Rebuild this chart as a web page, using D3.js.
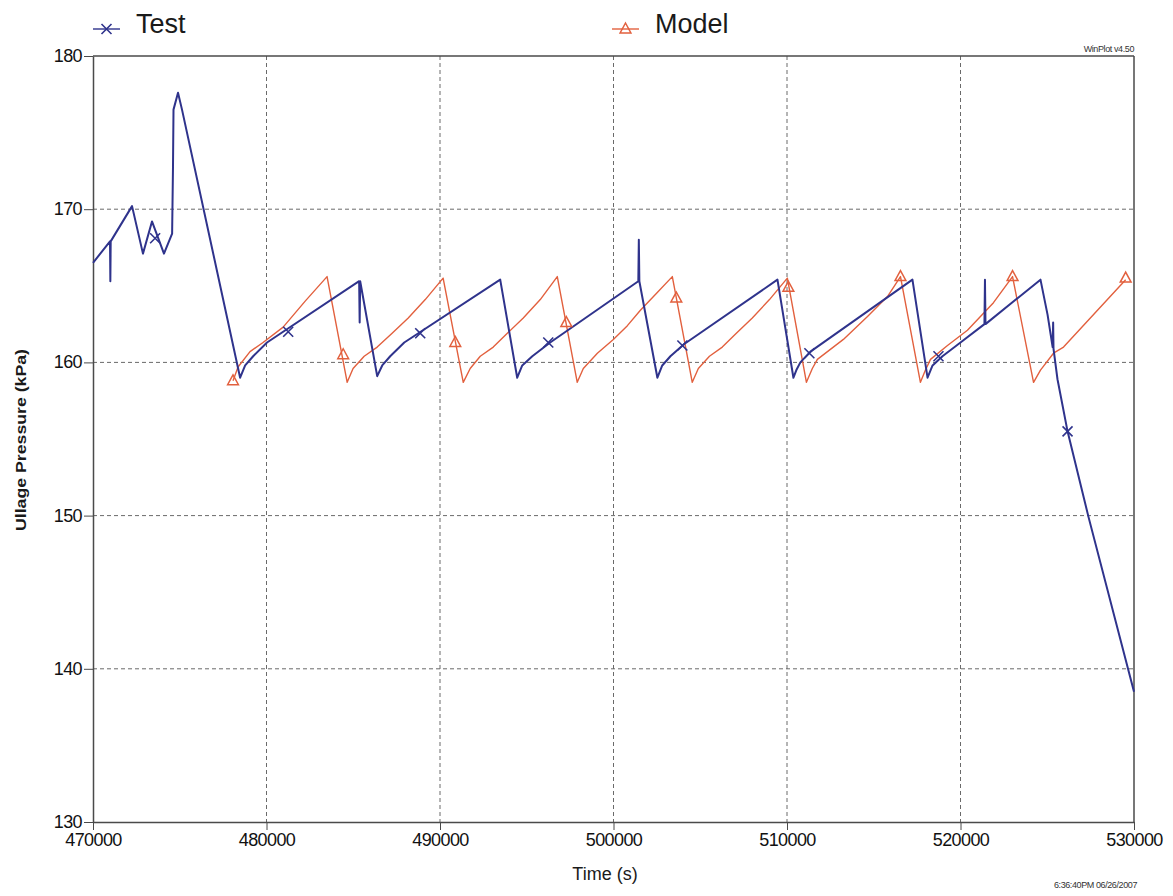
<!DOCTYPE html>
<html>
<head>
<meta charset="utf-8">
<script src="https://cdn.jsdelivr.net/npm/d3@7"></script>
<style>
  html, body { margin: 0; padding: 0; background: #fff; }
  svg { display: block; font-family: "Liberation Sans", Arial, sans-serif; }
</style>
</head>
<body>
<svg id="chart" width="1173" height="896"></svg>
<script>
// Measured ullage pressure (Test) versus model prediction (Model).
// Each entry: [time (s), pressure (kPa)]
const testSeries = [
  [470000, 166.5], [470980, 167.9], [471000, 165.3], [471020, 167.9],
  [472250, 170.2], [472880, 167.1], [473400, 169.2], [474090, 167.1],
  [474560, 168.4], [474610, 172.7], [474640, 176.5], [474900, 177.6],
  [475130, 176.5], [478480, 159.0], [478770, 159.8], [479230, 160.4],
  [480030, 161.3], [485340, 165.3], [485370, 162.6], [485400, 165.3],
  [486380, 159.1], [486670, 159.8], [487130, 160.4], [487940, 161.3],
  [493470, 165.4], [494450, 159.0], [494740, 159.8], [495320, 160.4],
  [496350, 161.3], [501430, 165.3], [501460, 168.0], [501490, 165.3],
  [502530, 159.0], [502810, 159.8], [503280, 160.4], [504080, 161.2],
  [509450, 165.4], [510370, 159.0], [510540, 159.5], [510770, 160.0],
  [511350, 160.7], [517230, 165.4], [518100, 159.0], [518390, 159.8],
  [518960, 160.4], [520000, 161.3], [521380, 162.5], [521410, 165.4],
  [521440, 162.5], [524610, 165.4], [525020, 163.1], [525310, 161.0],
  [525340, 162.6], [525360, 160.9], [525590, 158.9], [526170, 155.5],
  [527380, 149.9], [530000, 138.5]
];

const modelSeries = [
  [478070, 158.8], [478360, 159.7], [479050, 160.7], [479800, 161.3],
  [480960, 162.3], [482230, 164.0], [483490, 165.6], [484650, 158.7],
  [484990, 159.6], [485630, 160.4], [486380, 161.0], [487240, 161.9],
  [488170, 162.9], [489150, 164.1], [490180, 165.5], [491340, 158.7],
  [491740, 159.6], [492320, 160.4], [493070, 161.0], [493880, 161.9],
  [494800, 162.9], [495780, 164.1], [496760, 165.6], [497910, 158.7],
  [498260, 159.6], [499070, 160.6], [499990, 161.5], [500800, 162.4],
  [501550, 163.4], [502470, 164.5], [503390, 165.6], [504540, 158.7],
  [504890, 159.6], [505530, 160.4], [506270, 161.0], [507080, 161.9],
  [508000, 162.9], [508990, 164.1], [510020, 165.5], [511120, 158.7],
  [511460, 159.6], [511750, 160.2], [513250, 161.5], [514640, 163.0],
  [515790, 164.3], [516540, 165.6], [517690, 158.7], [517980, 159.5],
  [518270, 160.2], [519250, 161.1], [520400, 162.1], [521900, 163.9],
  [523000, 165.6], [524210, 158.7], [524610, 159.5], [525360, 160.6],
  [525940, 161.0], [529520, 165.4]
];

// Symbol positions along each curve
const testMarkers = [
  [473580, 168.1], [481250, 162.0], [488860, 161.9], [496240, 161.3],
  [503970, 161.1], [511290, 160.6], [518730, 160.4], [526170, 155.5]
];
const modelMarkers = [
  [478070, 158.8], [484420, 160.5], [490880, 161.3], [497280, 162.6],
  [503620, 164.2], [510080, 164.9], [516540, 165.6], [523000, 165.6],
  [529520, 165.5]
];

const xTicks = [470000, 480000, 490000, 500000, 510000, 520000, 530000];
const yTicks = [130, 140, 150, 160, 170, 180];
const seriesNames = ["Test", "Model"];

const testColor = "#2f338c";
const modelColor = "#e2603e";
const frameColor = "#4a4a4a";
const gridColor = "#6a6a6a";

const plotLeft = 93, plotTop = 56, plotRight = 1134, plotBottom = 822;

const svg = d3.select("#chart");
svg.append("rect").attr("width", 1173).attr("height", 896).attr("fill", "#fff");

const x = d3.scaleLinear().domain([470000, 530000]).range([plotLeft, plotRight]);
const y = d3.scaleLinear().domain([130, 180]).range([plotBottom, plotTop]);

// Dashed grid on interior ticks
const grid = svg.append("g");
grid.selectAll("line.v").data(xTicks.slice(1, -1)).join("line")
  .attr("class", "v")
  .attr("x1", d => x(d)).attr("x2", d => x(d))
  .attr("y1", plotTop).attr("y2", plotBottom)
  .attr("stroke", gridColor).attr("stroke-width", 1).attr("stroke-dasharray", "4,3");
grid.selectAll("line.h").data(yTicks.slice(1, -1)).join("line")
  .attr("class", "h")
  .attr("x1", plotLeft).attr("x2", plotRight)
  .attr("y1", d => y(d)).attr("y2", d => y(d))
  .attr("stroke", gridColor).attr("stroke-width", 1).attr("stroke-dasharray", "4,3");

// Axes
const xAxis = d3.axisBottom(x).tickValues(xTicks).tickFormat(d3.format("d"))
  .tickSizeInner(8).tickSizeOuter(0).tickPadding(3);
const yAxis = d3.axisLeft(y).tickValues(yTicks).tickFormat(d3.format("d"))
  .tickSizeInner(9).tickSizeOuter(0).tickPadding(2);

const gx = svg.append("g").attr("transform", `translate(0,${plotBottom})`).call(xAxis);
const gy = svg.append("g").attr("transform", `translate(${plotLeft},0)`).call(yAxis);
[gx, gy].forEach(g => {
  g.select(".domain").attr("stroke", frameColor).attr("stroke-width", 1.5);
  g.selectAll(".tick line").attr("stroke", frameColor).attr("stroke-width", 1);
  g.selectAll(".tick text").attr("fill", "#111")
    .style("font-family", "'Liberation Sans', Arial, sans-serif")
    .style("font-size", "18px").style("letter-spacing", "-0.6px");
});
gy.selectAll(".tick text").attr("dy", "0.3em");

// Top and right frame lines
svg.append("line").attr("x1", plotLeft).attr("x2", plotRight).attr("y1", plotTop).attr("y2", plotTop)
  .attr("stroke", frameColor).attr("stroke-width", 1.5);
svg.append("line").attr("x1", plotRight).attr("x2", plotRight).attr("y1", plotTop).attr("y2", plotBottom)
  .attr("stroke", frameColor).attr("stroke-width", 1.5);

// Curves
const line = d3.line().x(d => x(d[0])).y(d => y(d[1]));
svg.append("path").datum(modelSeries).attr("d", line)
  .attr("fill", "none").attr("stroke", modelColor).attr("stroke-width", 1.4)
  .attr("stroke-linejoin", "round");
svg.append("path").datum(testSeries).attr("d", line)
  .attr("fill", "none").attr("stroke", testColor).attr("stroke-width", 2)
  .attr("stroke-linejoin", "round");

// Symbols
const crossPath = s => `M${-s},${-s}L${s},${s}M${-s},${s}L${s},${-s}`;
const triPath = s => `M0,${-s}L${s * 0.9},${s * 0.65}L${-s * 0.9},${s * 0.65}Z`;

svg.append("g").selectAll("path").data(testMarkers).join("path")
  .attr("transform", d => `translate(${x(d[0])},${y(d[1])})`)
  .attr("d", crossPath(5))
  .attr("fill", "none").attr("stroke", testColor).attr("stroke-width", 1.6);
svg.append("g").selectAll("path").data(modelMarkers).join("path")
  .attr("transform", d => `translate(${x(d[0])},${y(d[1])})`)
  .attr("d", triPath(6))
  .attr("fill", "none").attr("stroke", modelColor).attr("stroke-width", 1.5);

// Legend
const legend = [
  { name: seriesNames[0], color: testColor, sym: crossPath(5), x0: 93, w: 1.6 },
  { name: seriesNames[1], color: modelColor, sym: triPath(6), x0: 612, w: 1.5 }
];
const lg = svg.append("g");
legend.forEach(l => {
  lg.append("line").attr("x1", l.x0).attr("x2", l.x0 + 27).attr("y1", 29).attr("y2", 29)
    .attr("stroke", l.color).attr("stroke-width", 1.4);
  lg.append("path").attr("transform", `translate(${l.x0 + 13.5},29)`).attr("d", l.sym)
    .attr("fill", "none").attr("stroke", l.color).attr("stroke-width", l.w);
  lg.append("text").attr("x", l.x0 + 43).attr("y", 33).text(l.name)
    .attr("fill", "#1a1a1a").style("font-size", "27px");
});

// Axis titles
svg.append("text").attr("x", 605).attr("y", 880).attr("text-anchor", "middle")
  .attr("fill", "#1a1a1a").style("font-size", "18px").text("Time (s)");
svg.append("text").attr("transform", "translate(26,440) rotate(-90)")
  .attr("text-anchor", "middle").attr("fill", "#1a1a1a")
  .attr("textLength", 182).attr("lengthAdjust", "spacingAndGlyphs")
  .style("font-size", "15px").style("font-weight", "bold")
  .text("Ullage Pressure (kPa)");

// Small footnotes
svg.append("text").attr("x", 1134).attr("y", 52).attr("text-anchor", "end")
  .attr("fill", "#333").style("font-size", "9px").style("letter-spacing", "-0.4px")
  .text("WinPlot v4.50");
svg.append("text").attr("x", 1137).attr("y", 888).attr("text-anchor", "end")
  .attr("fill", "#333").style("font-size", "9px").style("letter-spacing", "-0.4px")
  .text("6:36:40PM 06/26/2007");
</script>
</body>
</html>
